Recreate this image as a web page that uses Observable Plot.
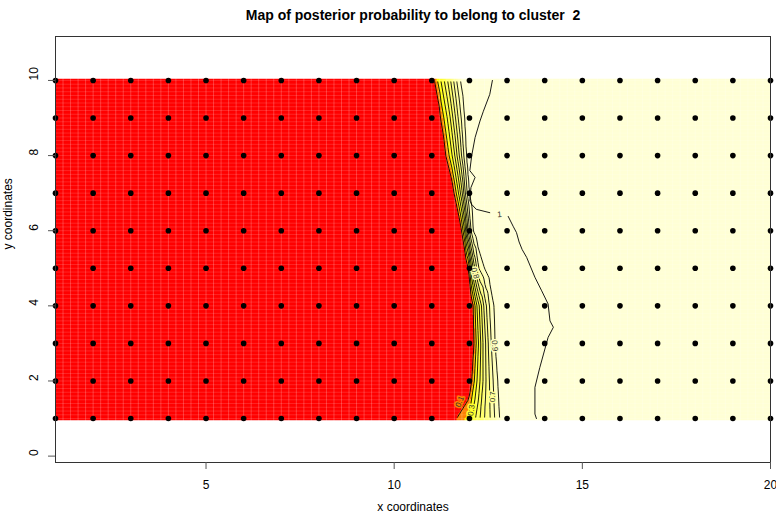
<!DOCTYPE html>
<html>
<head>
<meta charset="utf-8">
<script src="https://cdn.jsdelivr.net/npm/d3@7"></script>
<script src="https://cdn.jsdelivr.net/npm/@observablehq/plot@0.6"></script>
<style>
  html, body { margin: 0; padding: 0; background: #fff; }
  #chart { width: 776px; height: 518px; }
</style>
</head>
<body>
<div id="chart"></div>
<script>
// ---------- data ----------
const title = "Map of posterior probability to belong to cluster  2";
const xLabel = "x coordinates";
const yLabel = "y coordinates";
const xTicks = [5, 10, 15, 20];
const yTicks = [0, 2, 4, 6, 8, 10];

// sample sites (black dots)
const siteX = [1,2,3,4,5,6,7,8,9,10,11,12,13,14,15,16,17,18,19,20];
const siteY = [1,2,3,4,5,6,7,8,9,10];

// probability field: for each row y, x where the field crosses each contour level
const rowY = [1, 2, 3, 4, 5, 6, 7, 8, 9, 10];
const levels = [0.1, 0.2, 0.3, 0.4, 0.5, 0.6, 0.7, 0.8, 0.9];
const crossings = [
  [11.66, 11.95, 12.05, 12.16, 12.28, 12.40, 12.55, 12.67, 12.80], // y=1
  [12.06, 12.13, 12.20, 12.28, 12.36, 12.44, 12.53, 12.63, 12.75], // y=2
  [12.12, 12.18, 12.24, 12.30, 12.36, 12.43, 12.50, 12.58, 12.68], // y=3
  [12.10, 12.15, 12.20, 12.26, 12.32, 12.38, 12.45, 12.53, 12.65], // y=4
  [11.97, 12.00, 12.03, 12.06, 12.10, 12.14, 12.19, 12.25, 12.40], // y=5
  [11.79, 11.83, 11.87, 11.90, 11.93, 11.96, 12.00, 12.04, 12.10], // y=6
  [11.59, 11.65, 11.71, 11.76, 11.81, 11.85, 11.89, 11.94, 12.00], // y=7
  [11.37, 11.46, 11.54, 11.61, 11.67, 11.73, 11.79, 11.85, 11.92], // y=8
  [11.23, 11.32, 11.41, 11.49, 11.56, 11.63, 11.70, 11.78, 11.87], // y=9
  [11.07, 11.15, 11.24, 11.33, 11.42, 11.50, 11.58, 11.66, 11.76]  // y=10
];
// x where the field is still ~0 (red edge) and where it is ~0.97 (pale edge)
const redEdgeX  = [11.58, 11.99, 12.06, 12.04, 11.91, 11.74, 11.53, 11.31, 11.17, 11.00];
const paleEdgeX = [12.92, 12.88, 12.80, 12.78, 12.55, 12.20, 12.10, 12.03, 11.98, 11.86];
const paleValue = 0.97;
const farLeftX = 0.5, farLeftValue = 0;
const farRightX = 20.5, farRightValue = 1;
// the image cells reach half a cell (in y units) beyond the outer rows
const halfCellY = 0.045;

// the meandering "1" contour
const oneLineX = [12.61,12.54,12.37,12.28,12.15,12.06,12.01,12.15,12.04,12.01,12.06,12.18,12.54,
                  13.03,13.16,13.25,13.32,13.40,13.52,13.74,13.92,14.09,14.14,14.23,14.09,13.87,13.74,13.74,13.78];
const oneLineY = [10.00,9.63,9.18,8.92,8.48,8.00,7.60,7.42,7.15,6.80,6.70,6.57,6.48,
                  6.38,6.12,5.95,5.70,5.50,5.29,4.76,4.40,4.05,3.60,3.43,3.16,2.36,1.83,1.12,1.00];
const oneLineSeg = [0,0,0,0,0,0,0,0,0,0,0,0,0, 1,1,1,1,1,1,1,1,1,1,1,1,1,1,1,1];

// contour labels
const labelText  = ["0.1", "0.3", "0.7", "0.9", "0.8", "1"];
const labelLevel = [0.1, 0.3, 0.7, 0.9, 0.8, 1];
const labelX     = [11.74, 12.05, 12.60, 12.67, 12.15, 12.80];
const labelY     = [1.45, 1.22, 1.58, 2.94, 4.87, 6.43];
const labelAngle = [-68, -81, -90, 87, 74, -5];

// heat.colors(12) and its breaks
const heatColors = ["#FF0000","#FF8000","#FFFF00","#FFFF2A","#FFFF40","#FFFF55",
                    "#FFFF6A","#FFFF80","#FFFF95","#FFFFAA","#FFFFBF","#FFFFD5"];
const heatBreaks = [0.0833,0.1667,0.25,0.3333,0.4167,0.5,0.5833,0.6667,0.75,0.8333,0.9167];

// ---------- tables built from the arrays ----------
const field = [];
rowY.forEach((y, i) => {
  field.push({x: farLeftX, y, v: farLeftValue});
  field.push({x: redEdgeX[i], y, v: 0});
  crossings[i].forEach((x, k) => field.push({x, y, v: levels[k]}));
  field.push({x: paleEdgeX[i], y, v: paleValue});
  field.push({x: farRightX, y, v: farRightValue});
});
const sites = d3.cross(siteX, siteY, (x, y) => ({x, y}));
const oneLine = oneLineX.map((x, i) => ({x, y: oneLineY[i], s: oneLineSeg[i]}));
const labels = labelText.map((t, i) => ({t, v: labelLevel[i], x: labelX[i], y: labelY[i], a: labelAngle[i]}));

const font = "'Liberation Sans', Arial, Helvetica, sans-serif";

const svg = Plot.plot({
  width: 776,
  height: 518,
  marginLeft: 55,
  marginRight: 6,
  marginTop: 36,
  marginBottom: 56,
  style: {fontFamily: font, fontSize: "12px", background: "white", color: "black"},
  x: {domain: [1, 20]},
  y: {domain: [-0.17, 11.17]},
  color: {type: "threshold", domain: heatBreaks, range: heatColors},
  marks: [
    Plot.raster(field, {x: "x", y: "y", fill: "v", interpolate: "barycentric",
      x1: 1, x2: 20, y1: 1, y2: 10, pixelSize: 1}),
    Plot.gridX({interval: 0.2, stroke: "white", strokeOpacity: 0.22}),
    Plot.gridY({interval: 0.1, stroke: "white", strokeOpacity: 0.14}),
    Plot.contour(field, {x: "x", y: "y", value: "v", interpolate: "barycentric",
      thresholds: levels, x1: 0.5, x2: 20.5, y1: 1, y2: 10, pixelSize: 1,
      fill: "none", stroke: "black", strokeWidth: 0.9}),
    Plot.line(oneLine, {x: "x", y: "y", z: "s", stroke: "black", strokeWidth: 0.9}),
    Plot.text(labels, {x: "x", y: "y", text: "t", rotate: "a", fontSize: 8,
      fill: "#333", stroke: "v", strokeWidth: 3, paintOrder: "stroke"}),
    Plot.dot(sites, {x: "x", y: "y", r: 2.8, fill: "black", stroke: null}),
    Plot.frame({stroke: "#333"}),
    Plot.axisX({ticks: xTicks, tickSize: 7, tickPadding: 10.5, label: null,
      stroke: "#555", fill: "black", fontSize: 12}),
    Plot.axisY({ticks: yTicks, tickSize: 7, tickFormat: () => "", label: null, stroke: "#555"}),
    Plot.text(yTicks, {y: d => d, text: d => String(d), frameAnchor: "left", rotate: -90,
      dx: -21, fontSize: 12, fill: "black"}),
    Plot.text([title], {frameAnchor: "top", dy: -26, fontSize: 14, fontWeight: "bold", fill: "black"}),
    Plot.text([xLabel], {frameAnchor: "bottom", dy: 48, fontSize: 12, fill: "black"}),
    Plot.text([yLabel], {frameAnchor: "left", dx: -47, rotate: -90, fontSize: 12, fill: "black"})
  ]
});

const sx = svg.scale("x"), sy = svg.scale("y");

// stretch the raster image by half a cell above and below, as R's image() draws it
const img = svg.querySelector('g[aria-label="raster"] image');
if (img) {
  const d = Math.abs(sy.apply(10 + halfCellY) - sy.apply(10));
  const y0 = parseFloat(img.getAttribute("y") || "0");
  const h0 = parseFloat(img.getAttribute("height"));
  img.setAttribute("y", y0 - d);
  img.setAttribute("height", h0 + 2 * d);
  img.setAttribute("preserveAspectRatio", "none");
}

// clip contour lines to just inside the grid extent [1,20] x [1,10]
const ns = "http://www.w3.org/2000/svg";
const defs = document.createElementNS(ns, "defs");
const cp = document.createElementNS(ns, "clipPath");
cp.setAttribute("id", "contour-clip");
const rect = document.createElementNS(ns, "rect");
const rx0 = sx.apply(1), rx1 = sx.apply(20), ry0 = sy.apply(10) + 1, ry1 = sy.apply(1) - 1;
rect.setAttribute("x", rx0);
rect.setAttribute("y", ry0);
rect.setAttribute("width", rx1 - rx0);
rect.setAttribute("height", ry1 - ry0);
cp.appendChild(rect);
defs.appendChild(cp);
svg.insertBefore(defs, svg.firstChild);
const cg = svg.querySelector('g[aria-label="contour"]');
if (cg) cg.setAttribute("clip-path", "url(#contour-clip)");

document.getElementById("chart").appendChild(svg);
</script>
</body>
</html>
